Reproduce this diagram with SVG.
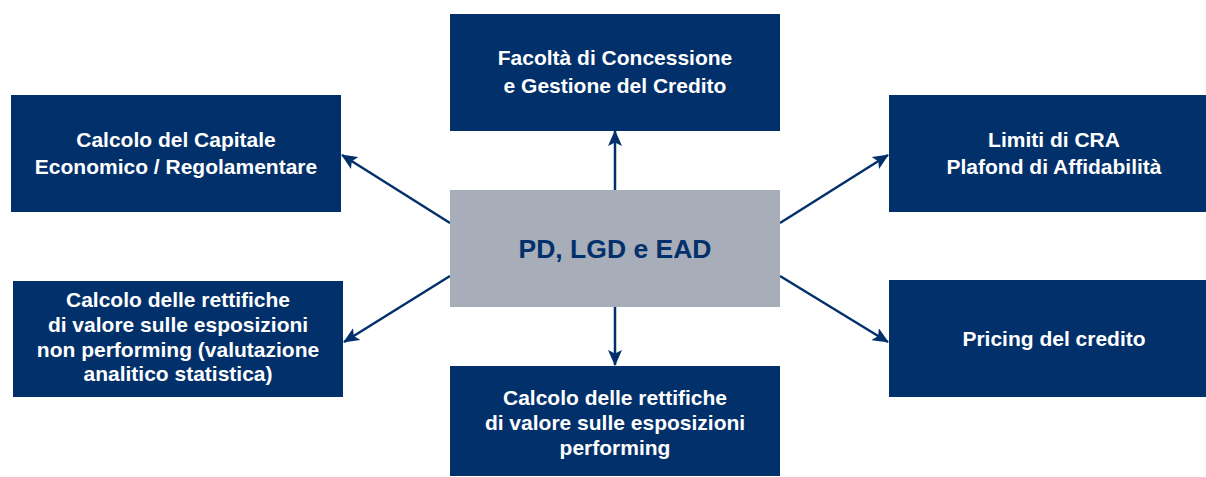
<svg xmlns="http://www.w3.org/2000/svg" width="1206" height="477" viewBox="0 0 1206 477">
<style>
.box{fill:#02306b}
.center{fill:#a8adba}
.t{font-family:"Liberation Sans",Arial,sans-serif;font-weight:bold;font-size:21px;fill:#ffffff;text-anchor:middle}
.ct{font-family:"Liberation Sans",Arial,sans-serif;font-weight:bold;font-size:26.5px;fill:#02306b;text-anchor:middle}
.c{stroke:#02306b;stroke-width:2.5;fill:none;marker-end:url(#ah)}
</style>
<defs>
<marker id="ah" viewBox="0 0 16 14" refX="15" refY="7" markerWidth="16" markerHeight="14" markerUnits="userSpaceOnUse" orient="auto">
<path d="M0,0 L16,7 L0,14 L3.5,7 z" fill="#02306b"/>
</marker>
</defs>
<rect width="1206" height="477" fill="#ffffff"/>
<g id="connectors">
<line class="c" x1="615" y1="190" x2="615" y2="131"/>
<line class="c" x1="615" y1="307" x2="615" y2="365"/>
<line class="c" x1="450" y1="223" x2="342" y2="155"/>
<line class="c" x1="450" y1="276" x2="344" y2="342"/>
<line class="c" x1="780" y1="223" x2="888" y2="155"/>
<line class="c" x1="780" y1="276" x2="888" y2="342"/>
</g>
<g id="center">
<rect class="center" x="450" y="190" width="330" height="117"/>
<text class="ct" x="615" y="258">PD, LGD e EAD</text>
</g>
<g id="top">
<rect class="box" x="450" y="14" width="330" height="117"/>
<text class="t" x="615" y="65">Facoltà di Concessione</text>
<text class="t" x="615" y="93">e Gestione del Credito</text>
</g>
<g id="left-top">
<rect class="box" x="11" y="95" width="330" height="117"/>
<text class="t" x="176" y="147">Calcolo del Capitale</text>
<text class="t" x="176" y="174">Economico / Regolamentare</text>
</g>
<g id="left-bottom">
<rect class="box" x="13" y="281" width="330" height="116"/>
<text class="t" x="178" y="307">Calcolo delle rettifiche</text>
<text class="t" x="178" y="332">di valore sulle esposizioni</text>
<text class="t" x="178" y="357">non performing (valutazione</text>
<text class="t" x="178" y="381">analitico statistica)</text>
</g>
<g id="right-top">
<rect class="box" x="889" y="95" width="317" height="117"/>
<text class="t" x="1054" y="147">Limiti di CRA</text>
<text class="t" x="1054" y="174">Plafond di Affidabilità</text>
</g>
<g id="right-bottom">
<rect class="box" x="889" y="280" width="317" height="117"/>
<text class="t" x="1054" y="346">Pricing del credito</text>
</g>
<g id="bottom">
<rect class="box" x="450" y="366" width="330" height="110"/>
<text class="t" x="615" y="405">Calcolo delle rettifiche</text>
<text class="t" x="615" y="430">di valore sulle esposizioni</text>
<text class="t" x="615" y="455">performing</text>
</g>
</svg>
